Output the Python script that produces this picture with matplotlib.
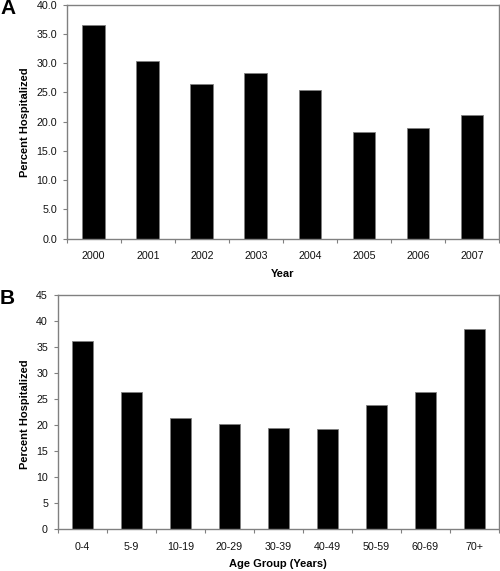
import matplotlib
matplotlib.use("Agg")
import matplotlib.pyplot as plt
import numpy as np

plt.rcParams['font.family'] = ['Liberation Sans', 'DejaVu Sans']

years = ["2000", "2001", "2002", "2003", "2004", "2005", "2006", "2007"]
pct_by_year = [36.5, 30.3, 26.4, 28.3, 25.5, 18.2, 18.9, 21.2]

age_groups = ["0-4", "5-9", "10-19", "20-29", "30-39", "40-49", "50-59", "60-69", "70+"]
pct_by_age = [36.2, 26.4, 21.3, 20.3, 19.5, 19.2, 23.9, 26.4, 38.5]

W, H = 500, 571
fig = plt.figure(figsize=(W / 100, H / 100), dpi=100)

gray = '#808080'
TICK_FS = 7.7

def style(ax, n):
    for s in ax.spines.values():
        s.set_color(gray)
        s.set_linewidth(1.0)
    ax.set_xlim(0, n)
    ax.set_xticks(np.arange(n + 1), minor=False)
    ax.set_xticklabels([])
    ax.set_xticks(np.arange(n) + 0.5, minor=True)
    ax.tick_params(axis='x', which='major', length=3, color=gray, direction='out')
    ax.tick_params(axis='x', which='minor', length=0, pad=9, labelsize=TICK_FS, labelcolor='#111111')
    ax.tick_params(axis='y', length=3, color=gray, direction='out', labelsize=TICK_FS, pad=4,
                   labelcolor='#111111')

# Panel A
axA = fig.add_axes([66.7 / W, 1 - 238.7 / H, (499 - 66.7) / W, (238.7 - 4.7) / H])
xa = np.arange(len(years)) + 0.5
axA.bar(xa, pct_by_year, width=0.42, color='black', edgecolor=gray, linewidth=0.6)
style(axA, len(years))
axA.set_xticklabels(years, minor=True)
axA.set_ylim(0, 40)
axA.set_yticks(np.arange(0, 40.1, 5))
axA.set_yticklabels([f"{v:.1f}" for v in np.arange(0, 40.1, 5)])
fig.text(283 / W, 1 - 274 / H, "Year", ha='center', va='center', fontsize=8, fontweight='bold')
fig.text(25 / W, 1 - 122 / H, "Percent Hospitalized", ha='center', va='center', rotation=90,
         fontsize=8, fontweight='bold')
fig.text(0 / W, 1 - 8 / H, "A", ha='left', va='center', fontsize=15, fontweight='bold')

# Panel B
axB = fig.add_axes([57.7 / W, 1 - 529 / H, (499 - 57.7) / W, (529 - 295.3) / H])
xb = np.arange(len(age_groups)) + 0.5
axB.bar(xb, pct_by_age, width=0.43, color='black', edgecolor=gray, linewidth=0.6)
style(axB, len(age_groups))
axB.set_xticklabels(age_groups, minor=True)
axB.set_ylim(0, 45)
axB.set_yticks(np.arange(0, 46, 5))
fig.text(278 / W, 1 - 564 / H, "Age Group (Years)", ha='center', va='center', fontsize=8, fontweight='bold')
fig.text(25 / W, 1 - 414 / H, "Percent Hospitalized", ha='center', va='center', rotation=90,
         fontsize=8, fontweight='bold')
fig.text(0 / W, 1 - 299 / H, "B", ha='left', va='center', fontsize=15, fontweight='bold')

fig.savefig("out.png", dpi=100)
